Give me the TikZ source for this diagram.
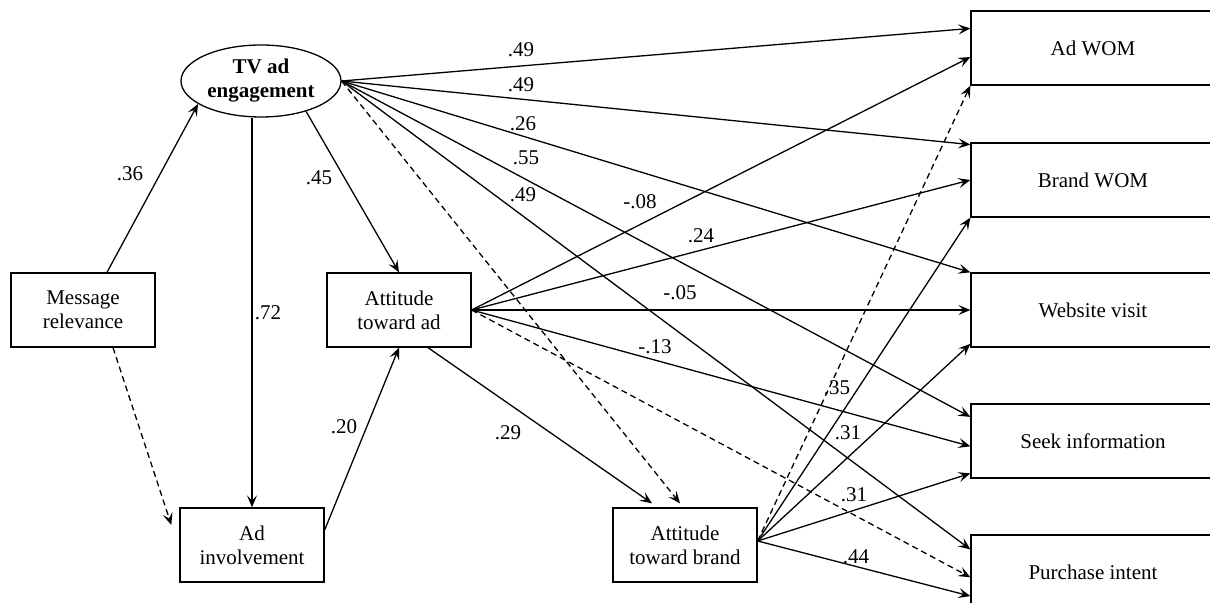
\documentclass[tikz,border=0pt]{standalone}
\usepackage{fontspec}
\setmainfont{Liberation Serif}
\usetikzlibrary{arrows.meta,shapes.geometric,calc}
\begin{document}
\begin{tikzpicture}
    [ x=0.5pt, y=-0.5pt,
      font=\fontsize{10.5pt}{12pt}\selectfont,
      path-arrow/.style = {
        -{Stealth[length=6pt,width=5pt,inset=2.5pt]},
        line width=0.65pt
      },
      weak-arrow/.style = {path-arrow, dash pattern=on 3pt off 2pt},
      var-node/.style = {
        shape=rectangle, draw, line width=0.65pt, align=center,
        minimum width=72pt, minimum height=37pt, inner sep=0pt
      },
      out-node/.style = {var-node, minimum width=122pt},
      latent-node/.style = {
        shape=ellipse, draw, line width=0.65pt, align=center,
        minimum width=80pt, minimum height=36pt, inner sep=0pt,
        font=\fontsize{10.5pt}{12pt}\selectfont\bfseries
      },
      txt/.style = {inner sep=0pt}]
  \useasboundingbox (0,0) rectangle (1210,603);
  \node [latent-node] (tv) at (261,81) {TV ad\\engagement};
  \node [var-node] (mr) at (83,310) {Message\\relevance};
  \node [var-node] (ata) at (399,310) {Attitude\\toward ad};
  \node [var-node] (ai) at (252,545) {Ad\\involvement};
  \node [var-node] (atb) at (685,545) {Attitude\\toward brand};
  \node [out-node] (adwom) at (1093,48) {Ad WOM};
  \node [out-node] (bwom) at (1093,180) {Brand WOM};
  \node [out-node] (web) at (1093,310) {Website visit};
  \node [out-node] (seek) at (1093,441) {Seek information};
  \node [out-node] (pi) at (1093,572) {Purchase intent};

  \draw [path-arrow] ([xshift=12pt]mr.north) -- (tv.200);
  \draw [weak-arrow] ([xshift=15pt]mr.south) -- ([xshift=-4pt,yshift=10pt]ai.west);
  \draw [path-arrow] (ai.north |- tv.south) -- (ai.north);
  \draw [path-arrow] (tv.-34) -- (ata.north);
  \draw [path-arrow] ([yshift=7.5pt]ai.east) -- (ata.south);
  \draw [path-arrow] ([xshift=14.5pt]ata.south) -- ([xshift=-16.5pt,yshift=2pt]atb.north);
  \draw [weak-arrow] (tv.east) -- ([xshift=-2.5pt,yshift=2pt]atb.north);

  \draw [path-arrow] (tv.east) -- ($(adwom.north west)!.24!(adwom.south west)$);
  \draw [path-arrow] (tv.east) -- ($(bwom.north west)!.03!(bwom.south west)$);
  \draw [path-arrow] (tv.east) -- (web.north west);
  \draw [path-arrow] (tv.east) -- ($(seek.north west)!.18!(seek.south west)$);
  \draw [path-arrow] (tv.east) -- ($(pi.north west)!.2!(pi.south west)$);

  \draw [path-arrow] (ata.east) -- ($(adwom.north west)!.62!(adwom.south west)$);
  \draw [path-arrow] (ata.east) -- (bwom.west);
  \draw [path-arrow] (ata.east) -- (web.west);
  \draw [path-arrow] (ata.east) -- ($(seek.north west)!.57!(seek.south west)$);
  \draw [weak-arrow] (ata.east) -- ($(pi.north west)!.57!(pi.south west)$);

  \draw [weak-arrow] ([yshift=2pt]atb.east) -- (adwom.south west);
  \draw [path-arrow] ([yshift=2pt]atb.east) -- (bwom.south west);
  \draw [path-arrow] ([yshift=2pt]atb.east) -- ($(web.north west)!.95!(web.south west)$);
  \draw [path-arrow] ([yshift=2pt]atb.east) -- ($(seek.north west)!.93!(seek.south west)$);
  \draw [path-arrow] ([yshift=2pt]atb.east) -- ($(pi.north west)!.82!(pi.south west)$);

  \node [txt] (l-mr-tv) at (130,174) {.36};
  \node [txt] (l-tv-ai) at (268,313) {.72};
  \node [txt] (l-tv-ata) at (319,178) {.45};
  \node [txt] (l-ai-ata) at (344,427) {.20};
  \node [txt] (l-ata-atb) at (508,433) {.29};
  \node [txt] (l-tv-adwom) at (521,50) {.49};
  \node [txt] (l-tv-bwom) at (521,85) {.49};
  \node [txt] (l-tv-web) at (523,124) {.26};
  \node [txt] (l-tv-seek) at (526,158) {.55};
  \node [txt] (l-tv-pi) at (523,195) {.49};
  \node [txt] (l-ata-adwom) at (640,202) {-.08};
  \node [txt] (l-ata-bwom) at (701,236) {.24};
  \node [txt] (l-ata-web) at (680,293) {-.05};
  \node [txt] (l-ata-seek) at (655,347) {-.13};
  \node [txt] (l-atb-adwom) at (837,388) {.35};
  \node [txt] (l-atb-bwom) at (848,433) {.31};
  \node [txt] (l-atb-seek) at (854,495) {.31};
  \node [txt] (l-atb-pi) at (856,557) {.44};
\end{tikzpicture}
\end{document}
